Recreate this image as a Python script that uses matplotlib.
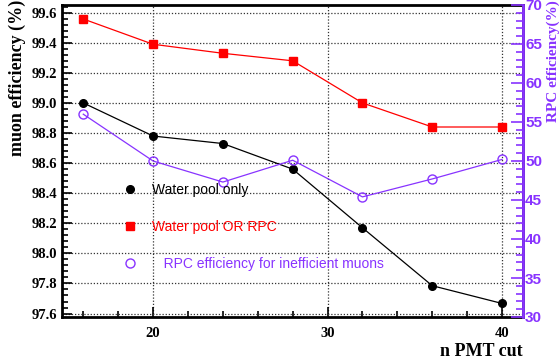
import matplotlib
matplotlib.use('Agg')
import matplotlib.pyplot as plt
from matplotlib.lines import Line2D
from matplotlib.ticker import MultipleLocator

n_pmt_cut = [16, 20, 24, 28, 32, 36, 40]
water_pool_only = [99.00, 98.78, 98.73, 98.56, 98.17, 97.785, 97.667]
water_pool_or_rpc = [99.558, 99.39, 99.33, 99.28, 99.00, 98.84, 98.84]
rpc_eff_inefficient = [56.0, 50.0, 47.3, 50.1, 45.4, 47.7, 50.2]

purple = '#8833ff'
serif = 'Liberation Serif'
sans = 'Liberation Sans'

fig = plt.figure(figsize=(5.59, 3.64), dpi=100)
ax = fig.add_axes([62 / 559, 47 / 364, 461 / 559, 312 / 364])

ax.plot(n_pmt_cut, water_pool_only, color='black', lw=0.9, marker='o',
        ms=5.5, zorder=3)
ax.plot(n_pmt_cut, water_pool_or_rpc, color='red', lw=0.9, marker='s',
        ms=5.5, zorder=3)

ax.set_xlim(14.78, 41.2)
ax.set_ylim(97.577, 99.651)
ax.xaxis.set_major_locator(MultipleLocator(10))
ax.xaxis.set_minor_locator(MultipleLocator(2))
ax.yaxis.set_major_locator(MultipleLocator(0.2))
ax.yaxis.set_minor_locator(MultipleLocator(0.04))
ax.yaxis.set_major_formatter(matplotlib.ticker.FormatStrFormatter('%.1f'))
ax.grid(True, which='major', color='#333333', lw=0.9, linestyle=(0, (1, 1.5)))
ax.set_axisbelow(True)

ax.tick_params(which='both', direction='in', top=False, right=False,
               labelsize=10.5, width=1.2)
ax.tick_params(which='major', length=7)
ax.tick_params(which='minor', length=4)
ax.tick_params(axis='y', pad=3.5)
ax.tick_params(axis='x', pad=7)
for lab in ax.get_xticklabels() + ax.get_yticklabels():
    lab.set_fontfamily(serif)
    lab.set_fontweight('bold')
for s in ax.spines.values():
    s.set_linewidth(2)

ax2 = ax.twinx()
ax2.plot(n_pmt_cut, rpc_eff_inefficient, color=purple, lw=0.9, marker='o',
         ms=6.5, mfc='none', mew=1.0, zorder=3)
ax2.set_ylim(30, 70)
ax2.yaxis.set_major_locator(MultipleLocator(5))
ax2.yaxis.set_minor_locator(MultipleLocator(1))
ax2.tick_params(which='both', direction='in', colors=purple, labelsize=11,
                width=1.2, pad=1.5)
ax2.tick_params(which='major', length=9)
ax2.tick_params(which='minor', length=5)
for lab in ax2.get_yticklabels():
    lab.set_fontfamily(sans)
    lab.set_fontweight('bold')
ax2.spines['right'].set_color(purple)
ax2.spines['right'].set_linewidth(2)
for k in ['left', 'top', 'bottom']:
    ax2.spines[k].set_visible(False)

fig.text(17 / 559, 1.0, 'muon efficiency (%)', rotation=90, ha='center',
         va='top', fontfamily=serif, fontweight='bold', fontsize=13)
fig.text(553 / 559, 1.0, 'RPC efficiency(%)', rotation=90, ha='center',
         va='top', fontfamily=serif, fontweight='bold', fontsize=11,
         color=purple)
fig.text(523 / 559, 1 - 352 / 364, 'n PMT cut', ha='right', va='center',
         fontfamily=serif, fontweight='bold', fontsize=13)

handles = [
    Line2D([], [], color='black', marker='o', ls='none', ms=5.5),
    Line2D([], [], color='red', marker='s', ls='none', ms=5.5),
    Line2D([], [], color=purple, marker='o', ls='none', ms=6.5, mfc='none'),
]
labels = ['Water pool only', 'Water pool OR RPC',
          '   RPC efficiency for inefficient muons']
leg = fig.legend(handles, labels, loc='upper left',
                 bbox_to_anchor=(123 / 559, 1 - 183 / 364), frameon=False,
                 prop={'family': sans, 'size': 10}, handlelength=1.0,
                 handletextpad=1.08, labelspacing=1.65, borderpad=0,
                 borderaxespad=0)
for txt, c in zip(leg.get_texts(), ['black', 'red', purple]):
    txt.set_color(c)

fig.savefig('out.png', dpi=100)
